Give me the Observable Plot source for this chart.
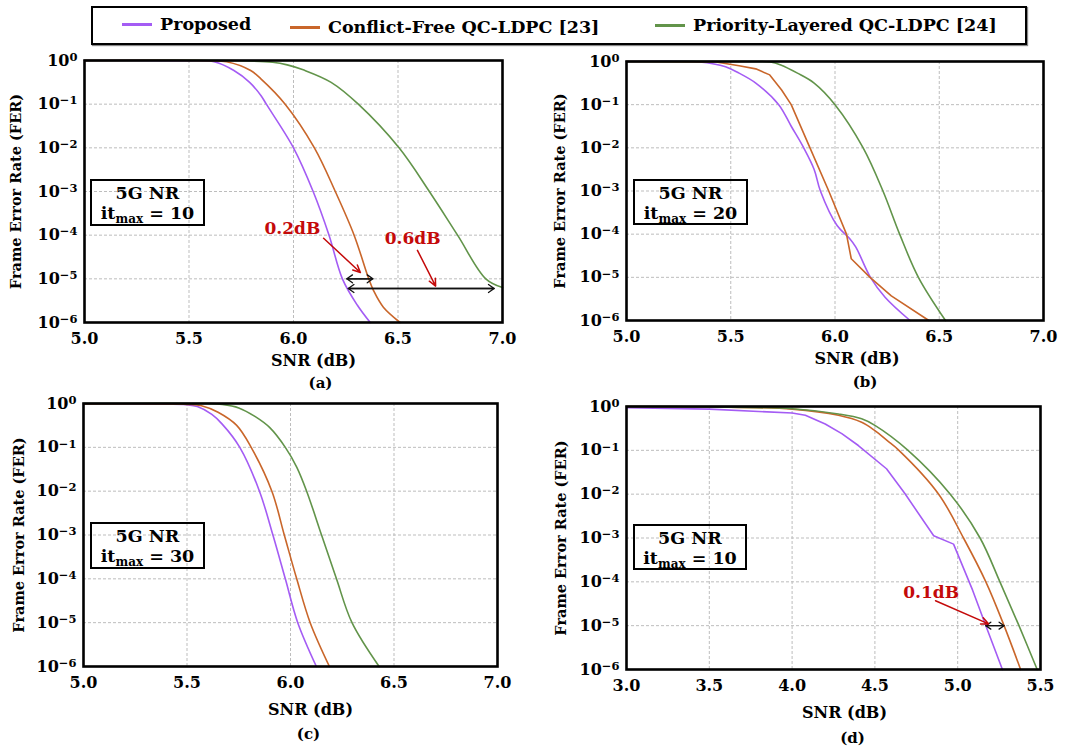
<!DOCTYPE html>
<html>
<head>
<meta charset="utf-8">
<script src="https://cdn.jsdelivr.net/npm/d3@7"></script>
<script src="https://cdn.jsdelivr.net/npm/@observablehq/plot@0.6"></script>
<style>
  html, body { margin: 0; padding: 0; background: #fff; }
  #root { position: relative; width: 1079px; height: 749px; background: #fff; overflow: hidden;
          font-family: "DejaVu Serif", serif; font-weight: bold; color: #000; }
  .panel { position: absolute; }
  .panel svg { overflow: visible; }
  .legend { position: absolute; left: 91px; top: 6px; width: 932px; height: 35px; border: 2px solid #000;
            box-shadow: 1px 1px 1px #888; }
  .leg-item { position: absolute; display: flex; align-items: center; font-size: 17.5px; white-space: nowrap; }
  .leg-line { display: inline-block; width: 30px; height: 3px; margin-right: 8px; }
  .infobox { position: absolute; border: 2px solid #000; box-sizing: border-box; text-align: center;
             font-size: 17.5px; line-height: 20px; padding-top: 2px; }
  .infobox sub { font-size: 12px; vertical-align: -4px; line-height: 0; }
</style>
</head>
<body>
<div id="root"></div>
<script>
// ---------- categories / labels ----------
const seriesNames = ["Proposed", "Conflict-Free QC-LDPC [23]", "Priority-Layered QC-LDPC [24]"];
const panelLetters = ["(a)", "(b)", "(c)", "(d)"];
const panelIters = ["10", "20", "30", "10"];
const xLabel = "SNR (dB)";
const yLabel = "Frame Error Rate (FER)";
const boxTitle = "5G NR";
const xTicksABC = [5.0, 5.5, 6.0, 6.5, 7.0];
const xTicksD = [3.0, 3.5, 4.0, 4.5, 5.0, 5.5];
const yTickExponents = [0, -1, -2, -3, -4, -5, -6];

// ---------- values: SNR (dB) and log10(FER) ----------
// panel (a) it_max = 10
const snrA_prop = [5.0, 5.5, 5.62, 5.715, 5.79, 5.844, 5.87, 6.0, 6.094, 6.17, 6.234, 6.305, 6.367];
const logA_prop = [0, -0.005, -0.03, -0.23, -0.5, -0.8, -1, -2, -3, -4, -5, -5.6, -6];
const snrA_conf = [5.0, 5.6, 5.68, 5.795, 5.844, 5.96, 6.10, 6.20, 6.29, 6.36, 6.383, 6.43, 6.51];
const logA_conf = [0, -0.005, -0.03, -0.23, -0.42, -1, -2, -3, -4, -5, -5.27, -5.65, -6];
const snrA_prio = [5.0, 5.75, 5.9, 5.97, 6.05, 6.18, 6.31, 6.505, 6.65, 6.785, 6.92, 7.0];
const logA_prio = [0, -0.005, -0.04, -0.1, -0.22, -0.5, -1, -2, -3, -4, -5, -5.2];

// panel (b) it_max = 20
const snrB_prop = [5.0, 5.35, 5.475, 5.54, 5.62, 5.73, 5.79, 5.85, 5.90, 5.93, 6.01, 6.07, 6.10, 6.17, 6.24, 6.36];
const logB_prop = [0, -0.01, -0.12, -0.27, -0.5, -1, -1.5, -2, -2.5, -3, -3.8, -4.1, -4.3, -5, -5.46, -6];
const snrB_conf = [5.0, 5.43, 5.54, 5.62, 5.687, 5.744, 5.79, 5.88, 5.97, 6.055, 6.078, 6.168, 6.27, 6.45];
const logB_conf = [0, -0.01, -0.1, -0.17, -0.31, -0.66, -1, -2, -3, -4, -4.57, -5, -5.43, -6];
const snrB_prio = [5.0, 5.6, 5.69, 5.74, 5.82, 5.90, 6.0, 6.135, 6.23, 6.31, 6.40, 6.53];
const logB_prio = [0, 0, -0.01, -0.08, -0.27, -0.5, -1, -2, -3, -4, -5, -6];

// panel (c) it_max = 30
const snrC_prop = [5.0, 5.5, 5.55, 5.62, 5.67, 5.755, 5.85, 5.915, 5.975, 6.035, 6.125];
const logC_prop = [-0.01, -0.03, -0.07, -0.25, -0.47, -1, -2, -3, -4, -5, -6];
const snrC_conf = [5.0, 5.5, 5.57, 5.65, 5.74, 5.81, 5.91, 5.97, 6.03, 6.095, 6.188];
const logC_conf = [-0.01, -0.02, -0.05, -0.2, -0.5, -1, -2, -3, -4, -5, -6];
const snrC_prio = [5.0, 5.6, 5.67, 5.75, 5.83, 5.90, 5.975, 6.03, 6.078, 6.15, 6.222, 6.297, 6.428];
const logC_prio = [0, 0, -0.02, -0.1, -0.3, -0.55, -1, -1.45, -2, -3, -4, -5, -6];

// panel (d) it_max = 10
const snrD_prop = [3.0, 3.5, 4.0, 4.08, 4.2, 4.3, 4.4, 4.57, 4.68, 4.855, 4.975, 5.09, 5.17, 5.27];
const logD_prop = [-0.03, -0.06, -0.15, -0.2, -0.4, -0.62, -0.89, -1.42, -1.98, -2.95, -3.14, -4.19, -5, -6];
const snrD_conf = [3.0, 3.5, 4.0, 4.28, 4.42, 4.5, 4.575, 4.645, 4.885, 5.035, 5.17, 5.28, 5.38];
const logD_conf = [0, -0.01, -0.06, -0.2, -0.36, -0.55, -0.78, -1, -2, -3, -4, -5, -6];
const snrD_prio = [3.0, 3.5, 4.0, 4.28, 4.42, 4.5, 4.70, 4.955, 5.135, 5.255, 5.37, 5.48];
const logD_prio = [0, -0.01, -0.05, -0.17, -0.28, -0.43, -1, -2, -3, -4, -5, -6];

// ---------- annotations (data coordinates) ----------
const gapLabelsA = [{snr: 5.995, fer: 1.45e-4, text: "0.2dB"}, {snr: 6.57, fer: 8.5e-5, text: "0.6dB"}];
const pointersA = [{x1: 6.144, y1: 8.5e-5, x2: 6.32, y2: 1.4e-5}, {x1: 6.593, y1: 4.5e-5, x2: 6.68, y2: 6.8e-6}];
const gapsA = [{x1: 6.255, x2: 6.38, fer: 1e-5}, {x1: 6.262, x2: 6.96, fer: 6e-6}];
const gapLabelsD = [{snr: 4.84, fer: 5.75e-5, text: "0.1dB"}];
const pointersD = [{x1: 4.866, y1: 3.7e-5, x2: 5.186, y2: 1.1e-5}];
const gapsD = [{x1: 5.17, x2: 5.28, fer: 1e-5}];

// ---------- styles ----------
const seriesColors = ["#a45cf4", "#c9662a", "#62944a"];
const redColor = "#c40a0a";

const yTicks = yTickExponents.map(e => 10 ** e);
function rows(snr, logFer, name) { return snr.map((x, i) => ({snr: x, fer: 10 ** logFer[i], series: name})); }

const root = document.getElementById("root");

// legend
const legend = document.createElement("div");
legend.className = "legend";
root.appendChild(legend);
const legendPos = [{left: 29, top: 16}, {left: 197, top: 19}, {left: 562, top: 17}];
seriesNames.forEach((name, i) => {
  const it = document.createElement("div");
  it.className = "leg-item";
  it.style.left = legendPos[i].left + "px";
  it.style.top = (legendPos[i].top - 12) + "px";
  it.style.height = "24px";
  const ln = document.createElement("span");
  ln.className = "leg-line";
  ln.style.background = seriesColors[i];
  it.appendChild(ln);
  const tx = document.createElement("span");
  tx.textContent = name;
  it.appendChild(tx);
  legend.appendChild(it);
});

const panels = [
  {left: 0, top: 45, w: 540, h: 350, mL: 84, mR: 38, mT: 15, mB: 73, xDomain: [5, 7], xTicks: xTicksABC,
   data: [rows(snrA_prop, logA_prop, seriesNames[0]), rows(snrA_conf, logA_conf, seriesNames[1]), rows(snrA_prio, logA_prio, seriesNames[2])],
   curves: ["catmull-rom", "catmull-rom", "catmull-rom"], xl: [20, 38], cap: [27, 61], yl: -68,
   box: {left: 90, top: 179, w: 115, h: 47}, labels: gapLabelsA, pointers: pointersA, gaps: gapsA},
  {left: 540, top: 45, w: 539, h: 350, mL: 86, mR: 36, mT: 16, mB: 75, xDomain: [5, 7], xTicks: xTicksABC,
   data: [rows(snrB_prop, logB_prop, seriesNames[0]), rows(snrB_conf, logB_conf, seriesNames[1]), rows(snrB_prio, logB_prio, seriesNames[2])],
   curves: ["catmull-rom", "linear", "catmull-rom"], xl: [22, 38], cap: [30, 62], yl: -66,
   box: {left: 633, top: 179, w: 115, h: 46}, labels: [], pointers: [], gaps: []},
  {left: 0, top: 390, w: 540, h: 359, mL: 83, mR: 43, mT: 13, mB: 83, xDomain: [5, 7], xTicks: xTicksABC,
   data: [rows(snrC_prop, logC_prop, seriesNames[0]), rows(snrC_conf, logC_conf, seriesNames[1]), rows(snrC_prio, logC_prio, seriesNames[2])],
   curves: ["catmull-rom", "catmull-rom", "catmull-rom"], xl: [20, 43], cap: [18, 68], yl: -64,
   box: {left: 90, top: 522, w: 115, h: 47}, labels: [], pointers: [], gaps: []},
  {left: 540, top: 390, w: 539, h: 359, mL: 86, mR: 39, mT: 16, mB: 80, xDomain: [3, 5.5], xTicks: xTicksD,
   data: [rows(snrD_prop, logD_prop, seriesNames[0]), rows(snrD_conf, logD_conf, seriesNames[1]), rows(snrD_prio, logD_prio, seriesNames[2])],
   curves: ["linear", "catmull-rom", "catmull-rom"], xl: [11, 43], cap: [19, 69], yl: -65,
   box: {left: 633, top: 524, w: 114, h: 46}, labels: gapLabelsD, pointers: pointersD, gaps: gapsD}
];

panels.forEach((p, k) => {
  const inner = p.xTicks.slice(1, -1);
  const marks = [
    Plot.gridX(inner, {stroke: "#bdbdbd", strokeOpacity: 1, strokeDasharray: "3,2", strokeWidth: 1}),
    Plot.gridY(yTicks.slice(1, -1), {stroke: "#bdbdbd", strokeOpacity: 1, strokeDasharray: "3,2", strokeWidth: 1}),
    ...p.data.map((d, i) => Plot.line(d, {x: "snr", y: "fer", stroke: "series", strokeWidth: 1.6, curve: p.curves[i]})),
    Plot.frame({stroke: "#000", strokeWidth: 2.6}),
    Plot.axisX(p.xTicks, {tickSize: 0, tickPadding: 10, tickFormat: d3.format(".1f"), label: null, fontSize: 16, fontWeight: "bold"}),
    Plot.axisY(yTicks, {tickSize: 0, tickPadding: 7, tickFormat: d => "10|" + Math.round(Math.log10(d)), label: null, fontSize: 16, fontWeight: "bold"}),
    Plot.text([xLabel], {text: d => d, frameAnchor: "bottom", dx: p.xl[0], dy: p.xl[1], lineAnchor: "middle", fontSize: 16, fontWeight: "bold"}),
    Plot.text([panelLetters[k]], {text: d => d, frameAnchor: "bottom", dx: p.cap[0], dy: p.cap[1], lineAnchor: "middle", fontSize: 15, fontWeight: "bold"}),
    Plot.text([yLabel], {text: d => d, frameAnchor: "left", dx: p.yl, rotate: -90, textAnchor: "middle", lineAnchor: "middle", fontSize: 14.5, fontWeight: "bold"})
  ];
  if (p.gaps.length) {
    marks.push(Plot.arrow(p.gaps, {x1: "x1", x2: "x2", y1: "fer", y2: "fer", stroke: "#111", strokeWidth: 1.3, headLength: 8, headAngle: 70}));
    marks.push(Plot.arrow(p.gaps, {x1: "x2", x2: "x1", y1: "fer", y2: "fer", stroke: "#111", strokeWidth: 1.3, headLength: 8, headAngle: 70}));
  }
  if (p.pointers.length) {
    marks.push(Plot.arrow(p.pointers, {x1: "x1", y1: "y1", x2: "x2", y2: "y2", stroke: redColor, strokeWidth: 1.5, headLength: 8, headAngle: 50}));
  }
  if (p.labels.length) {
    marks.push(Plot.text(p.labels, {x: "snr", y: "fer", text: "text", fill: redColor, fontSize: 17, fontWeight: "bold", lineAnchor: "middle"}));
  }
  const chart = Plot.plot({
    width: p.w, height: p.h,
    marginLeft: p.mL, marginRight: p.mR, marginTop: p.mT, marginBottom: p.mB,
    style: {fontFamily: "DejaVu Serif", fontWeight: "bold", fontSize: "16px", color: "#000", background: "transparent", overflow: "visible"},
    x: {domain: p.xDomain},
    y: {type: "log", domain: [1e-6, 1]},
    color: {domain: seriesNames, range: seriesColors},
    marks
  });
  // typeset the y tick labels as 10 with a raised exponent
  chart.querySelectorAll('g[aria-label="y-axis tick label"] text').forEach(t => {
    const parts = t.textContent.split("|");
    if (parts.length !== 2) return;
    while (t.firstChild) t.removeChild(t.firstChild);
    const base = document.createElementNS("http://www.w3.org/2000/svg", "tspan");
    base.textContent = parts[0];
    const ex = document.createElementNS("http://www.w3.org/2000/svg", "tspan");
    ex.setAttribute("dy", "-0.42em");
    ex.setAttribute("font-size", "11.5px");
    ex.textContent = parts[1].replace("-", "\u2212");
    t.appendChild(base);
    t.appendChild(ex);
  });
  const div = document.createElement("div");
  div.className = "panel";
  div.style.left = p.left + "px";
  div.style.top = p.top + "px";
  div.style.width = p.w + "px";
  div.style.height = p.h + "px";
  div.appendChild(chart);
  root.appendChild(div);

  const box = document.createElement("div");
  box.className = "infobox";
  box.style.left = p.box.left + "px";
  box.style.top = p.box.top + "px";
  box.style.width = p.box.w + "px";
  box.style.height = p.box.h + "px";
  box.innerHTML = boxTitle + "<br>it<sub>max</sub> = " + panelIters[k];
  root.appendChild(box);
});
</script>
</body>
</html>
